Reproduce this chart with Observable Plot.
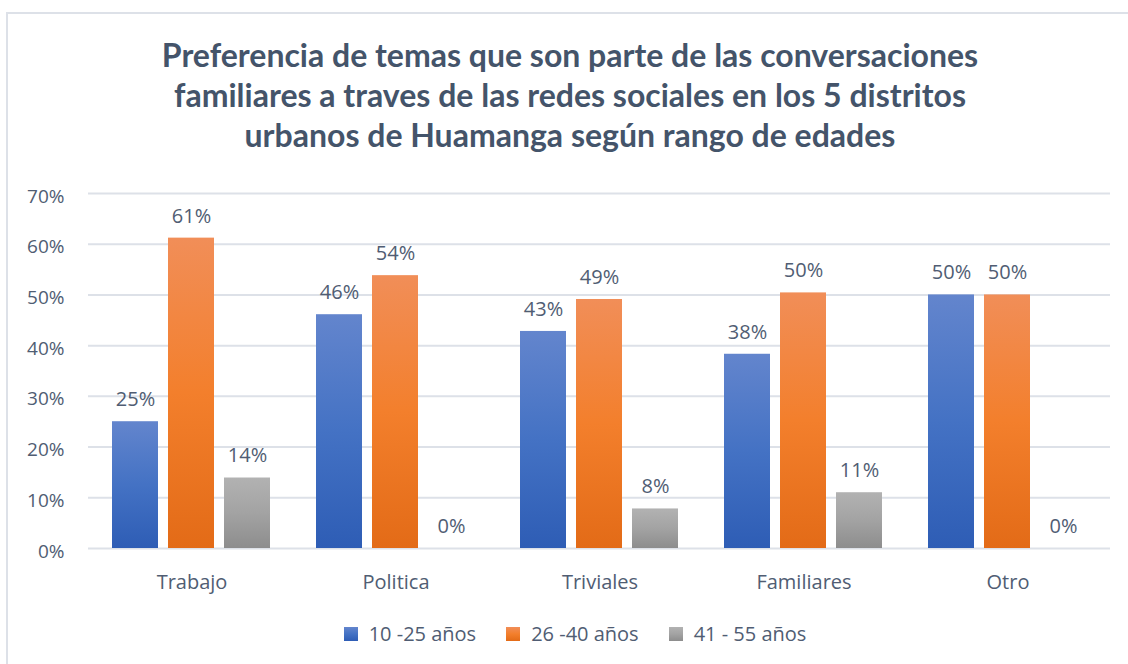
<!DOCTYPE html>
<html>
<head>
<meta charset="utf-8">
<script src="https://cdn.jsdelivr.net/npm/d3@7"></script>
<script src="https://cdn.jsdelivr.net/npm/@observablehq/plot@0.6"></script>
<style>
  html, body { margin: 0; padding: 0; background: #fff; width: 1128px; height: 664px; overflow: hidden; }
  #frame { position: absolute; left: 6px; top: 12px; width: 1130px; height: 700px; border: 2px solid #dde1e8; box-sizing: border-box; }
  #title { position: absolute; left: 6px; top: 35px; width: 1128px; text-align: center;
    font-family: Lato, sans-serif; font-weight: 700; font-size: 32px; line-height: 40px; color: #44546a; }
  #bg, #fg { position: absolute; left: 0; top: 160px; }
  #legend { position: absolute; left: 0; top: 620px; width: 1150px; display: flex; justify-content: center;
    font-family: "Open Sans", sans-serif; font-size: 20px; color: #505d73; }
  .item { display: flex; align-items: center; margin: 0 15px; line-height: 28px; }
  .sw { width: 14px; height: 14px; margin-right: 11px; }
</style>
</head>
<body>
<div id="frame"></div>
<div id="title">Preferencia de temas que son parte de las conversaciones<br>familiares a traves de las redes sociales en los 5 distritos<br>urbanos de Huamanga según rango de edades</div>
<div id="bg"></div>
<div id="fg"></div>
<div id="legend"></div>
<script>
const categories = ["Trabajo", "Politica", "Triviales", "Familiares", "Otro"];
const series = ["10 -25 años", "26 -40 años", "41 - 55 años"];
const values1025 = [25.0, 46.1, 42.8, 38.3, 50.0];
const values2640 = [61.2, 53.8, 49.1, 50.4, 50.0];
const values4155 = [13.9, 0, 7.8, 11.0, 0];
const yTicks = [0, 10, 20, 30, 40, 50, 60, 70];
const gradients = [
  {id: "gBlue", stops: ["#6385cd", "#4472c4", "#2e5db5"]},
  {id: "gOrange", stops: ["#f18e58", "#f37f2c", "#e36b17"]},
  {id: "gGray", stops: ["#b2b2b2", "#a3a3a3", "#8d8d8d"]}
];

const seriesValues = [values1025, values2640, values4155];
const data = [];
categories.forEach((c, i) => series.forEach((s, j) => data.push({cat: c, serie: s, value: seriesValues[j][i]})));

const common = {
  width: 1128, height: 450,
  marginLeft: 88, marginRight: 18, marginTop: 33, marginBottom: 62,
  style: {fontFamily: "Open Sans, sans-serif", fontSize: "19px", color: "#505d73", background: "transparent"}
};

const bg = Plot.plot({
  ...common,
  x: {axis: null, domain: [0, 1]},
  y: {domain: [0, 70], ticks: yTicks, tickFormat: d => d + "%", label: null, tickSize: 0, tickPadding: 24},
  marks: [
    Plot.ruleY(yTicks, {stroke: "#dde1e8", strokeWidth: 2}),
    Plot.axisY(yTicks, {tickSize: 0, tickPadding: 24, tickFormat: d => d + "%", dy: 3, fontSize: 19, label: null, fill: "#505d73"})
  ]
});
document.getElementById("bg").appendChild(bg);

const fg = Plot.plot({
  ...common,
  fx: {domain: categories, paddingInner: 0.212, paddingOuter: 0.106, label: null, axis: null},
  x: {domain: series, paddingInner: 0.175, paddingOuter: 0, axis: null},
  y: {domain: [0, 70], axis: null},
  color: {domain: series, range: gradients.map(g => `url(#${g.id})`)},
  marks: [
    Plot.barY(data, {fx: "cat", x: "serie", y: "value", fill: "serie"}),
    Plot.text(data, {fx: "cat", x: "serie", y: "value", text: d => Math.round(d.value) + "%", dy: -22, fontSize: 20, fill: "#505d73"}),
    Plot.axisFx({anchor: "bottom", tickSize: 0, tickPadding: 26, fontSize: 20, label: null, fill: "#505d73"})
  ]
});
const defs = d3.select(fg).insert("defs", ":first-child");
gradients.forEach(g => {
  const lg = defs.append("linearGradient").attr("id", g.id).attr("x1", 0).attr("y1", 0).attr("x2", 0).attr("y2", 1);
  g.stops.forEach((c, k) => lg.append("stop").attr("offset", k / (g.stops.length - 1)).attr("stop-color", c));
});
document.getElementById("fg").appendChild(fg);

const legend = d3.select("#legend");
series.forEach((s, j) => {
  const it = legend.append("div").attr("class", "item");
  const st = gradients[j].stops;
  it.append("div").attr("class", "sw").style("background", `linear-gradient(${st[0]}, ${st[1]}, ${st[2]})`);
  it.append("span").text(s);
});
</script>
</body>
</html>
